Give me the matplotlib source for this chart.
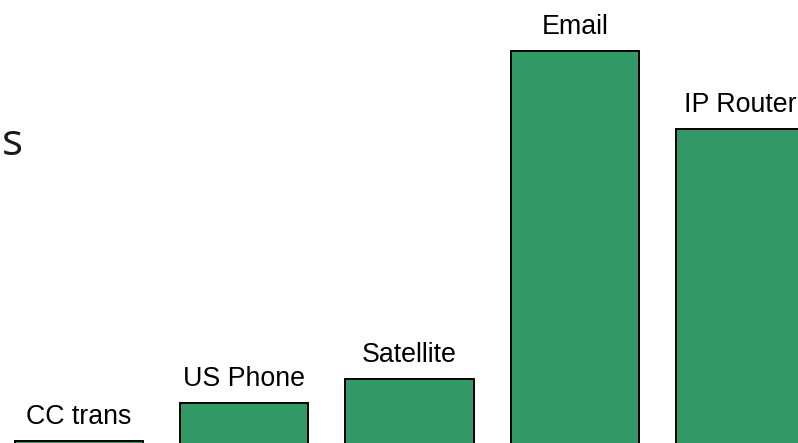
import matplotlib
matplotlib.use("Agg")
import matplotlib.pyplot as plt

# categories and bar heights (baseline sits just below the visible area)
labels = ["CC trans", "US Phone", "Satellite", "Email", "IP Router"]
values = [12, 50, 74, 402, 324]

fig = plt.figure(figsize=(7.98, 4.43), dpi=100)
ax = fig.add_axes([0, 0, 1, 1])

pos = list(range(len(labels)))
ax.bar(pos, values, width=0.776, color="#339966", edgecolor="black", linewidth=1.4)

# category names above each bar
for x, v, lab in zip(pos, values, labels):
    ax.annotate(lab, (x, v), xytext=(0, 12), textcoords="offset points",
                ha="center", va="baseline", fontsize=19.3,
                family="Liberation Sans", color="black")

ax.set_xlim(-0.478, 4.351)
ax.set_ylim(10, 453)
ax.axis("off")

# leftover piece of a title at the left edge
fig.text(0.002, 0.649, "s", fontsize=32, family="Open Sans", color="#1a1a1a",
         ha="left", va="baseline")

fig.savefig("out.png", dpi=100)
